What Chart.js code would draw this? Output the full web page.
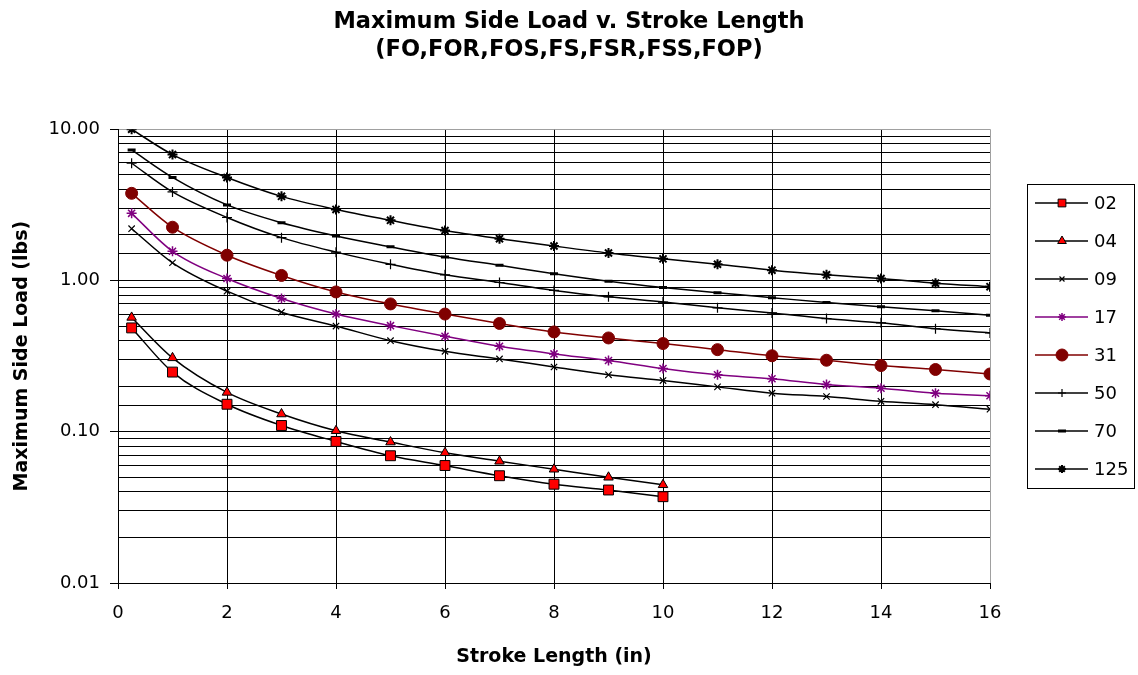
<!DOCTYPE html>
<html>
<head>
<meta charset="utf-8">
<title>Maximum Side Load v. Stroke Length</title>
<script src="https://cdn.jsdelivr.net/npm/chart.js@4.4.1/dist/chart.umd.min.js"></script>
<style>
  html, body { margin: 0; padding: 0; background: #ffffff; }
  #wrap { width: 1138px; height: 675px; }
</style>
</head>
<body>
<div id="wrap"><canvas id="myChart" width="1138" height="675"></canvas></div>
<script>
// stroke lengths (in)
const strokeLong = [0.25, 1, 2, 3, 4, 5, 6, 7, 8, 9, 10, 11, 12, 13, 14, 15, 16];
const strokeShort = [0.25, 1, 2, 3, 4, 5, 6, 7, 8, 9, 10];

// max side load (lbs)
const load02 = [0.486, 0.248, 0.152, 0.110, 0.0863, 0.0694, 0.0598, 0.0512, 0.045, 0.0412, 0.0372];
const load04 = [0.57, 0.308, 0.182, 0.131, 0.1015, 0.0855, 0.0726, 0.0638, 0.0565, 0.050, 0.0446];
const load09 = [2.20, 1.31, 0.85, 0.617, 0.50, 0.400, 0.340, 0.303, 0.268, 0.238, 0.218, 0.198, 0.180, 0.171, 0.159, 0.151, 0.141];
const load17 = [2.78, 1.56, 1.03, 0.76, 0.60, 0.503, 0.428, 0.367, 0.327, 0.296, 0.262, 0.238, 0.224, 0.205, 0.194, 0.180, 0.173];
const load31 = [3.77, 2.25, 1.47, 1.08, 0.84, 0.70, 0.60, 0.52, 0.457, 0.417, 0.383, 0.349, 0.318, 0.297, 0.274, 0.258, 0.241];
const load50 = [5.96, 3.85, 2.61, 1.92, 1.54, 1.28, 1.09, 0.97, 0.86, 0.78, 0.72, 0.66, 0.61, 0.56, 0.525, 0.48, 0.45];
const load70 = [7.3, 4.8, 3.16, 2.41, 1.97, 1.67, 1.43, 1.26, 1.11, 0.99, 0.90, 0.83, 0.77, 0.715, 0.67, 0.63, 0.59];
const load125 = [10.0, 6.8, 4.8, 3.6, 2.95, 2.5, 2.14, 1.89, 1.69, 1.52, 1.39, 1.28, 1.17, 1.09, 1.03, 0.96, 0.91];

const seriesNames = ['02', '04', '09', '17', '31', '50', '70', '125'];
const xTicks = [0, 2, 4, 6, 8, 10, 12, 14, 16];
const yTicks = [0.01, 0.1, 1, 10];

function pairs(xs, ys) {
    return ys.map((v, i) => ({ x: xs[i], y: v }));
}

function isDecade(v) {
    const l = Math.log10(v);
    return Math.abs(l - Math.round(l)) < 1e-6;
}

function makeSet(label, xs, ys, line, style, fill, edge, radius, width) {
    return {
        label: label,
        data: pairs(xs, ys),
        borderColor: line,
        borderWidth: 1.5,
        cubicInterpolationMode: 'monotone',
        pointStyle: style,
        pointRadius: radius,
        pointHoverRadius: radius,
        pointBackgroundColor: fill,
        pointBorderColor: edge,
        pointBorderWidth: width,
        fill: false
    };
}

const datasets = [
    makeSet(seriesNames[0], strokeShort, load02, '#000000', 'rect', '#ff0000', '#000000', 7, 1),
    makeSet(seriesNames[1], strokeShort, load04, '#000000', 'triangle', '#ff0000', '#000000', 5.5, 1),
    makeSet(seriesNames[2], strokeLong, load09, '#000000', 'crossRot', '#000000', '#000000', 4.5, 1.2),
    makeSet(seriesNames[3], strokeLong, load17, '#800080', 'star', '#800080', '#800080', 5, 1.5),
    makeSet(seriesNames[4], strokeLong, load31, '#800000', 'circle', '#800000', '#800000', 6, 1),
    makeSet(seriesNames[5], strokeLong, load50, '#000000', 'cross', '#000000', '#000000', 5, 1.2),
    makeSet(seriesNames[6], strokeLong, load70, '#000000', 'line', '#000000', '#000000', 4, 3),
    makeSet(seriesNames[7], strokeLong, load125, '#000000', 'star', '#000000', '#000000', 5, 2)
];

// legend sizes are a bit smaller than the plot markers
const legendRadius = [5.5, 5, 3.5, 4, 6, 4, 4, 4];

// boxed legend on the right, line + marker like the original
const boxLegend = {
    id: 'boxLegend',
    afterDraw(chart) {
        const ctx = chart.ctx;
        const left = 1027, top = 184, w = 107, h = 304;
        ctx.save();
        ctx.strokeStyle = '#000000';
        ctx.lineWidth = 1;
        ctx.strokeRect(left + 0.5, top + 0.5, w, h);
        chart.data.datasets.forEach((ds, i) => {
            const y = 203 + i * 38;
            ctx.strokeStyle = ds.borderColor;
            ctx.lineWidth = ds.borderWidth;
            ctx.beginPath();
            ctx.moveTo(1035, y);
            ctx.lineTo(1088, y);
            ctx.stroke();
            ctx.fillStyle = ds.pointBackgroundColor;
            ctx.strokeStyle = ds.pointBorderColor;
            ctx.lineWidth = ds.pointBorderWidth;
            Chart.helpers.drawPoint(ctx, {
                pointStyle: ds.pointStyle,
                radius: legendRadius[i],
                rotation: 0,
                borderWidth: ds.pointBorderWidth
            }, 1062, y);
            ctx.fillStyle = '#000000';
            ctx.font = '18px "DejaVu Sans"';
            ctx.textAlign = 'left';
            ctx.textBaseline = 'middle';
            ctx.fillText(ds.label, 1094, y + 1);
        });
        ctx.restore();
    }
};

const ctx = document.getElementById('myChart').getContext('2d');

new Chart(ctx, {
    type: 'line',
    data: { datasets: datasets },
    options: {
        responsive: false,
        animation: false,
        layout: { padding: { left: 0, right: 0, top: 0, bottom: 0 } },
        plugins: {
            legend: { display: false },
            tooltip: { enabled: false },
            title: {
                display: true,
                text: ['Maximum Side Load v. Stroke Length', '(FO,FOR,FOS,FS,FSR,FSS,FOP)'],
                color: '#000000',
                font: { family: 'DejaVu Sans', size: 22.5, weight: 'bold', lineHeight: 1.25 },
                padding: { top: 8, bottom: 65 }
            }
        },
        scales: {
            x: {
                type: 'linear',
                min: 0,
                max: 16,
                afterFit(scale) { scale.height = 92; },
                afterBuildTicks(scale) { scale.ticks = xTicks.map(v => ({ value: v })); },
                border: { color: '#000000', width: 1 },
                grid: {
                    color: c => (c.tick && c.tick.value === 16) ? '#a0a0a0' : '#000000',
                    lineWidth: 1,
                    tickLength: 6,
                    tickColor: '#000000'
                },
                ticks: {
                    color: '#000000',
                    padding: 14,
                    maxRotation: 0,
                    font: { family: 'DejaVu Sans', size: 18 }
                },
                title: {
                    display: true,
                    text: 'Stroke Length (in)',
                    color: '#000000',
                    font: { family: 'DejaVu Sans', size: 19, weight: 'bold' },
                    padding: { top: 0, bottom: 7 }
                }
            },
            y: {
                type: 'logarithmic',
                min: yTicks[0],
                max: yTicks[yTicks.length - 1],
                afterFit(scale) { scale.width = 118; },
                border: { color: '#000000', width: 1 },
                grid: {
                    color: c => (c.tick && c.tick.value === 10) ? '#a0a0a0' : '#000000',
                    lineWidth: 1,
                    tickLength: 8,
                    tickColor: c => (c.tick && isDecade(c.tick.value)) ? '#000000' : 'rgba(0,0,0,0)'
                },
                ticks: {
                    autoSkip: false,
                    color: '#000000',
                    padding: 10,
                    font: { family: 'DejaVu Sans', size: 18 },
                    callback: v => isDecade(v) ? Number(v).toFixed(2) : ''
                },
                title: {
                    display: true,
                    text: 'Maximum Side Load (lbs)',
                    color: '#000000',
                    font: { family: 'DejaVu Sans', size: 19, weight: 'bold' },
                    padding: { top: 11, bottom: 0 }
                }
            },
            // empty right-hand box that keeps room for the legend
            yRight: {
                position: 'right',
                display: true,
                afterFit(scale) { scale.width = 148; },
                grid: { display: false },
                border: { display: false },
                ticks: { display: false }
            }
        }
    },
    plugins: [boxLegend]
});
</script>
</body>
</html>
